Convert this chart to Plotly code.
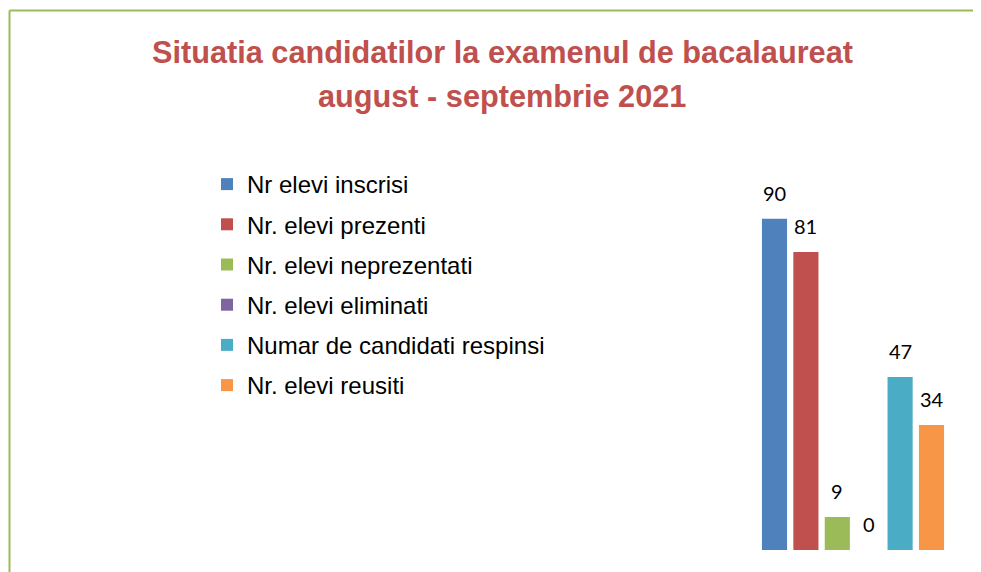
import plotly.graph_objects as go

series_names = [
    "Nr elevi inscrisi",
    "Nr. elevi prezenti",
    "Nr. elevi neprezentati",
    "Nr. elevi eliminati",
    "Numar de candidati respinsi",
    "Nr. elevi reusiti",
]
series_values = [90, 81, 9, 0, 47, 34]
series_colors = ["#4F81BD", "#C0504D", "#9BBB59", "#8064A2", "#4BACC6", "#F79646"]
title_lines = ["Situatia candidatilor la examenul de bacalaureat", "august - septembrie 2021"]

# page body has an 8px margin; work in reference pixel coords and shift
OFF = 8
W, H = 981 - OFF, 572 - OFF


def px(x):
    return (x - OFF) / W


def py(y):
    return 1 - (y - OFF) / H


fig = go.Figure()
for i, (name, val, col) in enumerate(zip(series_names, series_values, series_colors)):
    fig.add_trace(go.Bar(
        x=[i], y=[val], name=name, marker=dict(color=col, line=dict(width=0)),
        width=0.8, legendgroup=f"g{i}", hoverinfo="name+y",
    ))
    fig.add_annotation(
        x=i, y=val, text=str(val), showarrow=False, xref="x", yref="y",
        yanchor="middle", yshift=26,
        font=dict(family="Lato", size=20, color="#000000"),
    )

for txt, yc in zip(title_lines, [52, 97]):
    fig.add_annotation(x=px(502), y=py(yc), xref="paper", yref="paper", text=f"<b>{txt}</b>",
                       showarrow=False, xanchor="center", yanchor="middle",
                       font=dict(family="Liberation Sans", size=30.7, color="#C0504D"))

# chart border (top and left visible)
fig.add_shape(type="line", xref="paper", yref="paper", x0=px(9.5), x1=1.0, y0=py(10.5), y1=py(10.5),
              line=dict(color="#9BBB59", width=2))
fig.add_shape(type="line", xref="paper", yref="paper", x0=px(9.5), x1=px(9.5), y0=py(10.5), y1=0,
              line=dict(color="#9BBB59", width=2))

fig.update_layout(
    width=W, height=H,
    margin=dict(l=0, r=0, t=0, b=0),
    paper_bgcolor="white", plot_bgcolor="white",
    barmode="overlay",
    xaxis=dict(domain=[px(758.8), px(947.2)], range=[-0.5, 5.5], visible=False, fixedrange=True),
    yaxis=dict(domain=[py(550), py(182)], range=[0, 100], visible=False, fixedrange=True),
    legend=dict(x=px(207), y=py(162), xanchor="left", yanchor="top",
                font=dict(family="Liberation Sans", size=24, color="#000000"),
                tracegroupgap=6, bgcolor="rgba(0,0,0,0)"),
    showlegend=True,
)

fig.write_html("out.html")
